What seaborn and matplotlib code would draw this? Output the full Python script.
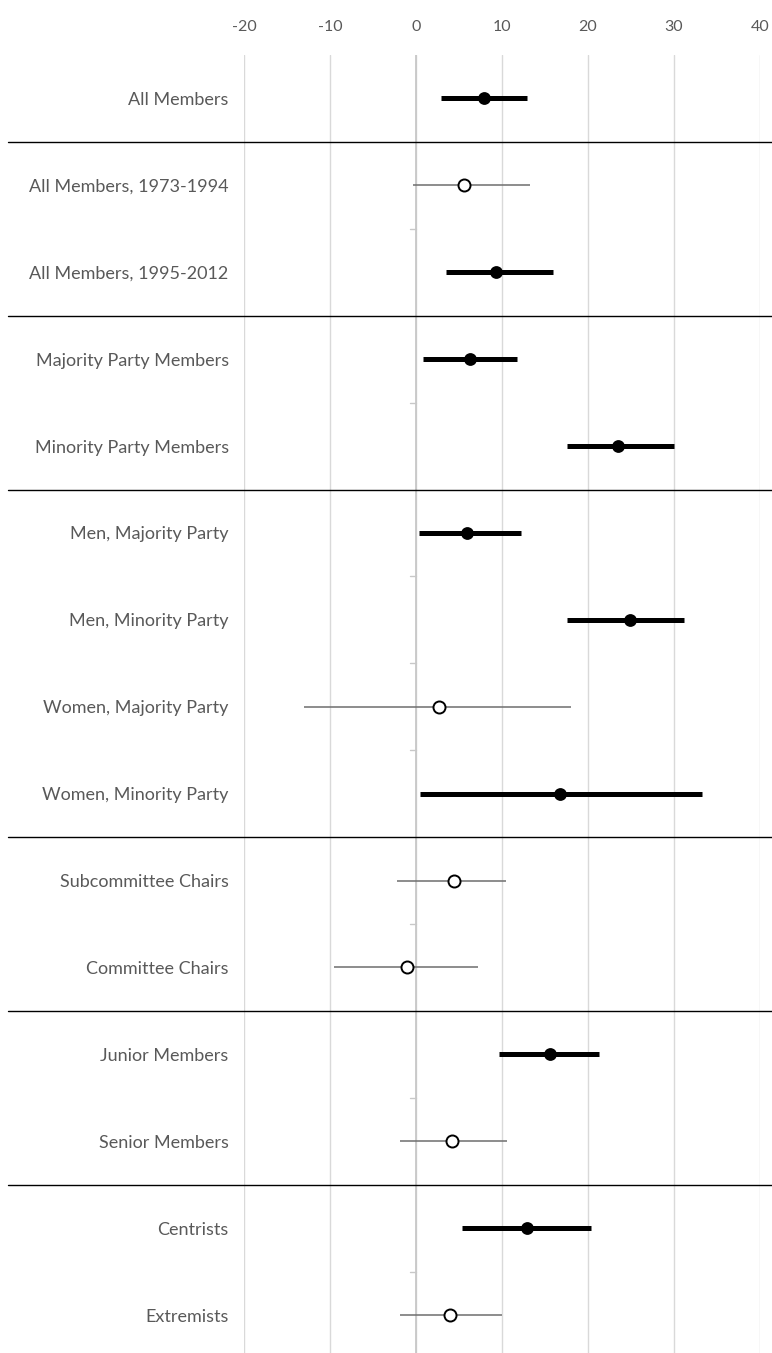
import numpy as np
import pandas as pd
import matplotlib
matplotlib.use("Agg")
import matplotlib.pyplot as plt
import matplotlib.transforms as mtransforms
import seaborn as sns

# Values
labels = [
    'All Members', 'All Members, 1973-1994', 'All Members, 1995-2012',
    'Majority Party Members', 'Minority Party Members',
    'Men, Majority Party', 'Men, Minority Party',
    'Women, Majority Party', 'Women, Minority Party',
    'Subcommittee Chairs', 'Committee Chairs',
    'Junior Members', 'Senior Members',
    'Centrists', 'Extremists',
]
estimate = [7.9, 5.6, 9.3, 6.3, 23.5, 5.9, 24.9, 2.7, 16.8, 4.4, -1.0, 15.6, 4.2, 12.9, 4.0]
ci_low = [2.9, -0.3, 3.5, 0.8, 17.5, 0.4, 17.5, -13.0, 0.5, -2.2, -9.5, 9.6, -1.9, 5.3, -1.9]
ci_high = [12.9, 13.3, 15.9, 11.8, 30.0, 12.2, 31.2, 18.0, 33.2, 10.5, 7.2, 21.3, 10.6, 20.3, 10.0]
significant = [True, False, True, True, True, True, True, False, True,
               False, False, True, False, True, False]
x_ticks = [-20, -10, 0, 10, 20, 30, 40]

# rows after which a group separator line is drawn
group_breaks = [0, 2, 4, 8, 10, 12]

df = pd.DataFrame({'label': labels, 'est': estimate, 'lo': ci_low,
                   'hi': ci_high, 'sig': significant})

sns.set_theme(style="white")
plt.rcParams['font.family'] = ['Lato', 'DejaVu Sans']

W, H = 772, 1353
fig = plt.figure(figsize=(W / 100, H / 100), dpi=100)
ax = fig.add_axes([244 / W, 0, (760 - 244) / W, (H - 55) / H])

# vertical gridlines
for t in x_ticks:
    ax.axvline(t, color='#d9d9d9', lw=1.0, zorder=0)
ax.axvline(0, color='#c8c8c8', lw=1.3, zorder=0)

# confidence intervals (all rows at once, so the category order is kept)
line_w = [3.6 if s else 1.1 for s in df['sig']]
line_c = ['black' if s else '#6e6e6e' for s in df['sig']]
ax.hlines(df['label'], df['lo'], df['hi'], colors=line_c, linewidths=line_w, zorder=2)

# point estimates
sig_df = df[df['sig']]
ns_df = df[~df['sig']]
sns.scatterplot(data=sig_df, x='est', y='label', ax=ax, s=85, color='black',
                edgecolor='black', linewidth=0, zorder=3)
sns.scatterplot(data=ns_df, x='est', y='label', ax=ax, s=75, color='white',
                edgecolor='black', linewidth=1.4, zorder=3)

n = len(labels)
ax.set_xlim(-20, 40)
ax.set_ylim(-0.5 + (H - 55) / 86.9, -0.5)

# small ticks on the zero axis between rows
for b in range(n - 1):
    if b not in group_breaks:
        ax.plot([-0.75, 0], [b + 0.5, b + 0.5], color='#c8c8c8', lw=1.0, zorder=1)

# group separators across the whole figure
trans = mtransforms.blended_transform_factory(fig.transFigure, ax.transData)
for b in group_breaks:
    ax.plot([8 / W, 1], [b + 0.5, b + 0.5], transform=trans, color='black',
            lw=1.0, clip_on=False, zorder=4)

ax.xaxis.tick_top()
ax.set_xticks(x_ticks)
ax.set_xticklabels([str(t) for t in x_ticks])
ax.tick_params(axis='x', length=0, pad=15, labelsize=11.5, labelcolor='#595959')
ax.tick_params(axis='y', length=0, pad=11, labelsize=13, labelcolor='#595959')
ax.set_xlabel('')
ax.set_ylabel('')
for s in ax.spines.values():
    s.set_visible(False)

fig.savefig('out.png', dpi=100)
